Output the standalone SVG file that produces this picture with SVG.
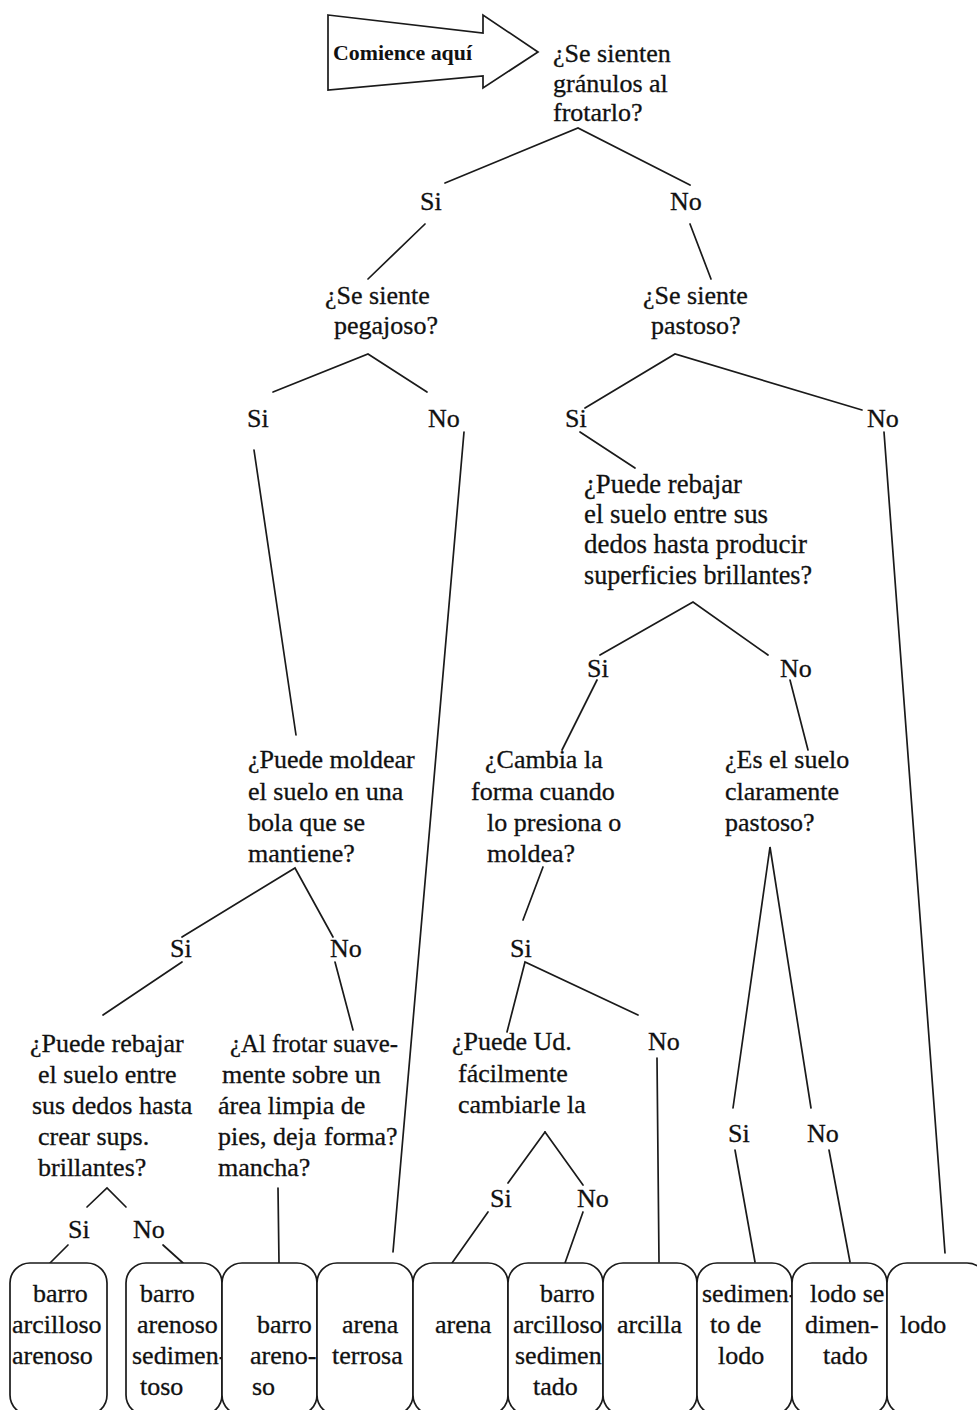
<svg xmlns="http://www.w3.org/2000/svg" width="977" height="1410" viewBox="0 0 977 1410">
  <style>
    .t { font-family: "Liberation Serif", "Times New Roman", serif; font-size: 26px; fill: #111; stroke: #111; stroke-width: 0.3; }
    .c { font-family: "Liberation Serif", "Times New Roman", serif; font-size: 27.5px; fill: #111; stroke: #111; stroke-width: 0.3; }
    .b { font-family: "Liberation Serif", "Times New Roman", serif; font-size: 20px; font-weight: bold; fill: #111; }
    .ln { stroke: #1a1a1a; stroke-width: 1.7; fill: none; stroke-linecap: round; }
    .box { fill: #fff; stroke: #1a1a1a; stroke-width: 1.7; }
  </style>
  <rect x="0" y="0" width="977" height="1410" fill="#fff"/>

  <!-- start arrow -->
  <g id="start">
    <polygon class="box" points="328,15 483,33 483,15 538,52 483,88 483,76 328,90"/>
    <text class="b" x="333" y="60" textLength="139" lengthAdjust="spacingAndGlyphs">Comience aquí</text>
  </g>

  <!-- connectors -->
  <g id="connectors" class="ln">
    <path d="M445,183 L578,128 L690,185"/>
    <path d="M425,224 L368,279"/>
    <path d="M690,224 L711,279"/>
    <path d="M273,392 L368,354 L427,392"/>
    <path d="M585,408 L675,354 L862,410"/>
    <path d="M254,450 L296,735"/>
    <path d="M464,432 L393,1252"/>
    <path d="M580,432 L635,468"/>
    <path d="M884,432 L945,1253"/>
    <path d="M600,655 L693,602 L768,655"/>
    <path d="M597,680 L562,750"/>
    <path d="M790,680 L808,750"/>
    <path d="M182,937 L295,868 L333,937"/>
    <path d="M182,962 L103,1015"/>
    <path d="M335,962 L353,1030"/>
    <path d="M543,867 L523,920"/>
    <path d="M507,1032 L525,962 L638,1015"/>
    <path d="M657,1058 L659,1262"/>
    <path d="M733,1108 L770,847 L811,1108"/>
    <path d="M735,1150 L755,1262"/>
    <path d="M829,1150 L850,1262"/>
    <path d="M87,1207 L107,1188 L126,1207"/>
    <path d="M68,1245 L50,1263"/>
    <path d="M163,1245 L183,1263"/>
    <path d="M278,1188 L279,1263"/>
    <path d="M545,1132 L508,1183"/>
    <path d="M545,1132 L583,1185"/>
    <path d="M488,1212 L452,1263"/>
    <path d="M583,1212 L565,1263"/>
  </g>

  <!-- answer labels -->
  <g id="labels">
    <text class="t" x="420" y="210">Si</text>
    <text class="t" x="670" y="210">No</text>
    <text class="t" x="247" y="427">Si</text>
    <text class="t" x="428" y="427">No</text>
    <text class="t" x="565" y="427">Si</text>
    <text class="t" x="867" y="427">No</text>
    <text class="t" x="587" y="677">Si</text>
    <text class="t" x="780" y="677">No</text>
    <text class="t" x="170" y="957">Si</text>
    <text class="t" x="330" y="957">No</text>
    <text class="t" x="510" y="957">Si</text>
    <text class="t" x="648" y="1050">No</text>
    <text class="t" x="728" y="1142">Si</text>
    <text class="t" x="807" y="1142">No</text>
    <text class="t" x="490" y="1207">Si</text>
    <text class="t" x="577" y="1207">No</text>
    <text class="t" x="68" y="1238">Si</text>
    <text class="t" x="133" y="1238">No</text>
  </g>

  <!-- questions -->
  <g id="q-granulos">
    <text class="t" x="553" y="62">¿Se sienten</text>
    <text class="t" x="553" y="92">gránulos al</text>
    <text class="t" x="553" y="121">frotarlo?</text>
  </g>
  <g id="q-pegajoso">
    <text class="t" x="325" y="304">¿Se siente</text>
    <text class="t" x="334" y="334">pegajoso?</text>
  </g>
  <g id="q-pastoso">
    <text class="t" x="643" y="304">¿Se siente</text>
    <text class="t" x="651" y="334">pastoso?</text>
  </g>
  <g id="q-brillantes">
    <text class="c" x="584" y="493" textLength="158" lengthAdjust="spacingAndGlyphs">¿Puede rebajar</text>
    <text class="c" x="584" y="523" textLength="184" lengthAdjust="spacingAndGlyphs">el suelo entre sus</text>
    <text class="c" x="584" y="553" textLength="223" lengthAdjust="spacingAndGlyphs">dedos hasta producir</text>
    <text class="c" x="584" y="584" textLength="228" lengthAdjust="spacingAndGlyphs">superficies brillantes?</text>
  </g>
  <g id="q-bola">
    <text class="t" x="248" y="768">¿Puede moldear</text>
    <text class="t" x="248" y="800">el suelo en una</text>
    <text class="t" x="248" y="831">bola que se</text>
    <text class="t" x="248" y="862">mantiene?</text>
  </g>
  <g id="q-cambia">
    <text class="t" x="485" y="768">¿Cambia la</text>
    <text class="t" x="471" y="800">forma cuando</text>
    <text class="t" x="487" y="831">lo presiona o</text>
    <text class="t" x="487" y="862">moldea?</text>
  </g>
  <g id="q-claramente">
    <text class="t" x="725" y="768">¿Es el suelo</text>
    <text class="t" x="725" y="800">claramente</text>
    <text class="t" x="725" y="831">pastoso?</text>
  </g>
  <g id="q-sups">
    <text class="t" x="30" y="1052">¿Puede rebajar</text>
    <text class="t" x="38" y="1083">el suelo entre</text>
    <text class="t" x="32" y="1114">sus dedos hasta</text>
    <text class="t" x="38" y="1145">crear sups.</text>
    <text class="t" x="38" y="1176">brillantes?</text>
  </g>
  <g id="q-mancha">
    <text class="t" x="230" y="1052" textLength="168" lengthAdjust="spacingAndGlyphs">¿Al frotar suave-</text>
    <text class="t" x="222" y="1083">mente sobre un</text>
    <text class="t" x="218" y="1114">área limpia de</text>
    <text class="t" x="218" y="1145">pies, deja</text>
    <text class="t" x="218" y="1176">mancha?</text>
  </g>
  <g id="q-ud">
    <text class="t" x="452" y="1050">¿Puede Ud.</text>
    <text class="t" x="458" y="1082">fácilmente</text>
    <text class="t" x="458" y="1113">cambiarle la</text>
    <text class="t" x="324" y="1145">forma?</text>
  </g>

  <!-- soil types -->
  <g id="r-barro-arcilloso-arenoso">
    <rect class="box" x="10" y="1263" width="97" height="152" rx="20"/>
    <text class="t" x="33" y="1302">barro</text>
    <text class="t" x="12" y="1333">arcilloso</text>
    <text class="t" x="12" y="1364">arenoso</text>
  </g>
  <g id="r-barro-arenoso-sedimentoso">
    <rect class="box" x="126" y="1263" width="96" height="152" rx="20"/>
    <text class="t" x="140" y="1302">barro</text>
    <text class="t" x="137" y="1333">arenoso</text>
    <text class="t" x="132" y="1364">sedimen-</text>
    <text class="t" x="140" y="1395">toso</text>
  </g>
  <g id="r-barro-arenoso">
    <rect class="box" x="222" y="1263" width="95" height="152" rx="20"/>
    <text class="t" x="257" y="1333">barro</text>
    <text class="t" x="250" y="1364">areno-</text>
    <text class="t" x="252" y="1395">so</text>
  </g>
  <g id="r-arena-terrosa">
    <rect class="box" x="317" y="1263" width="96" height="152" rx="20"/>
    <text class="t" x="342" y="1333">arena</text>
    <text class="t" x="332" y="1364">terrosa</text>
  </g>
  <g id="r-arena">
    <rect class="box" x="413" y="1263" width="95" height="152" rx="20"/>
    <text class="t" x="435" y="1333">arena</text>
  </g>
  <g id="r-barro-arcilloso-sedimentado">
    <rect class="box" x="508" y="1263" width="95" height="152" rx="20"/>
    <text class="t" x="540" y="1302">barro</text>
    <text class="t" x="513" y="1333">arcilloso</text>
    <text class="t" x="515" y="1364">sedimen-</text>
    <text class="t" x="533" y="1395">tado</text>
  </g>
  <g id="r-arcilla">
    <rect class="box" x="603" y="1263" width="94" height="152" rx="20"/>
    <text class="t" x="617" y="1333">arcilla</text>
  </g>
  <g id="r-sedimento-de-lodo">
    <rect class="box" x="697" y="1263" width="95" height="152" rx="20"/>
    <text class="t" x="702" y="1302">sedimen-</text>
    <text class="t" x="710" y="1333">to de</text>
    <text class="t" x="718" y="1364">lodo</text>
  </g>
  <g id="r-lodo-sedimentado">
    <rect class="box" x="792" y="1263" width="95" height="152" rx="20"/>
    <text class="t" x="810" y="1302">lodo se</text>
    <text class="t" x="805" y="1333">dimen-</text>
    <text class="t" x="823" y="1364">tado</text>
  </g>
  <g id="r-lodo">
    <rect class="box" x="887" y="1263" width="100" height="152" rx="20"/>
    <text class="t" x="900" y="1333">lodo</text>
  </g>
</svg>
